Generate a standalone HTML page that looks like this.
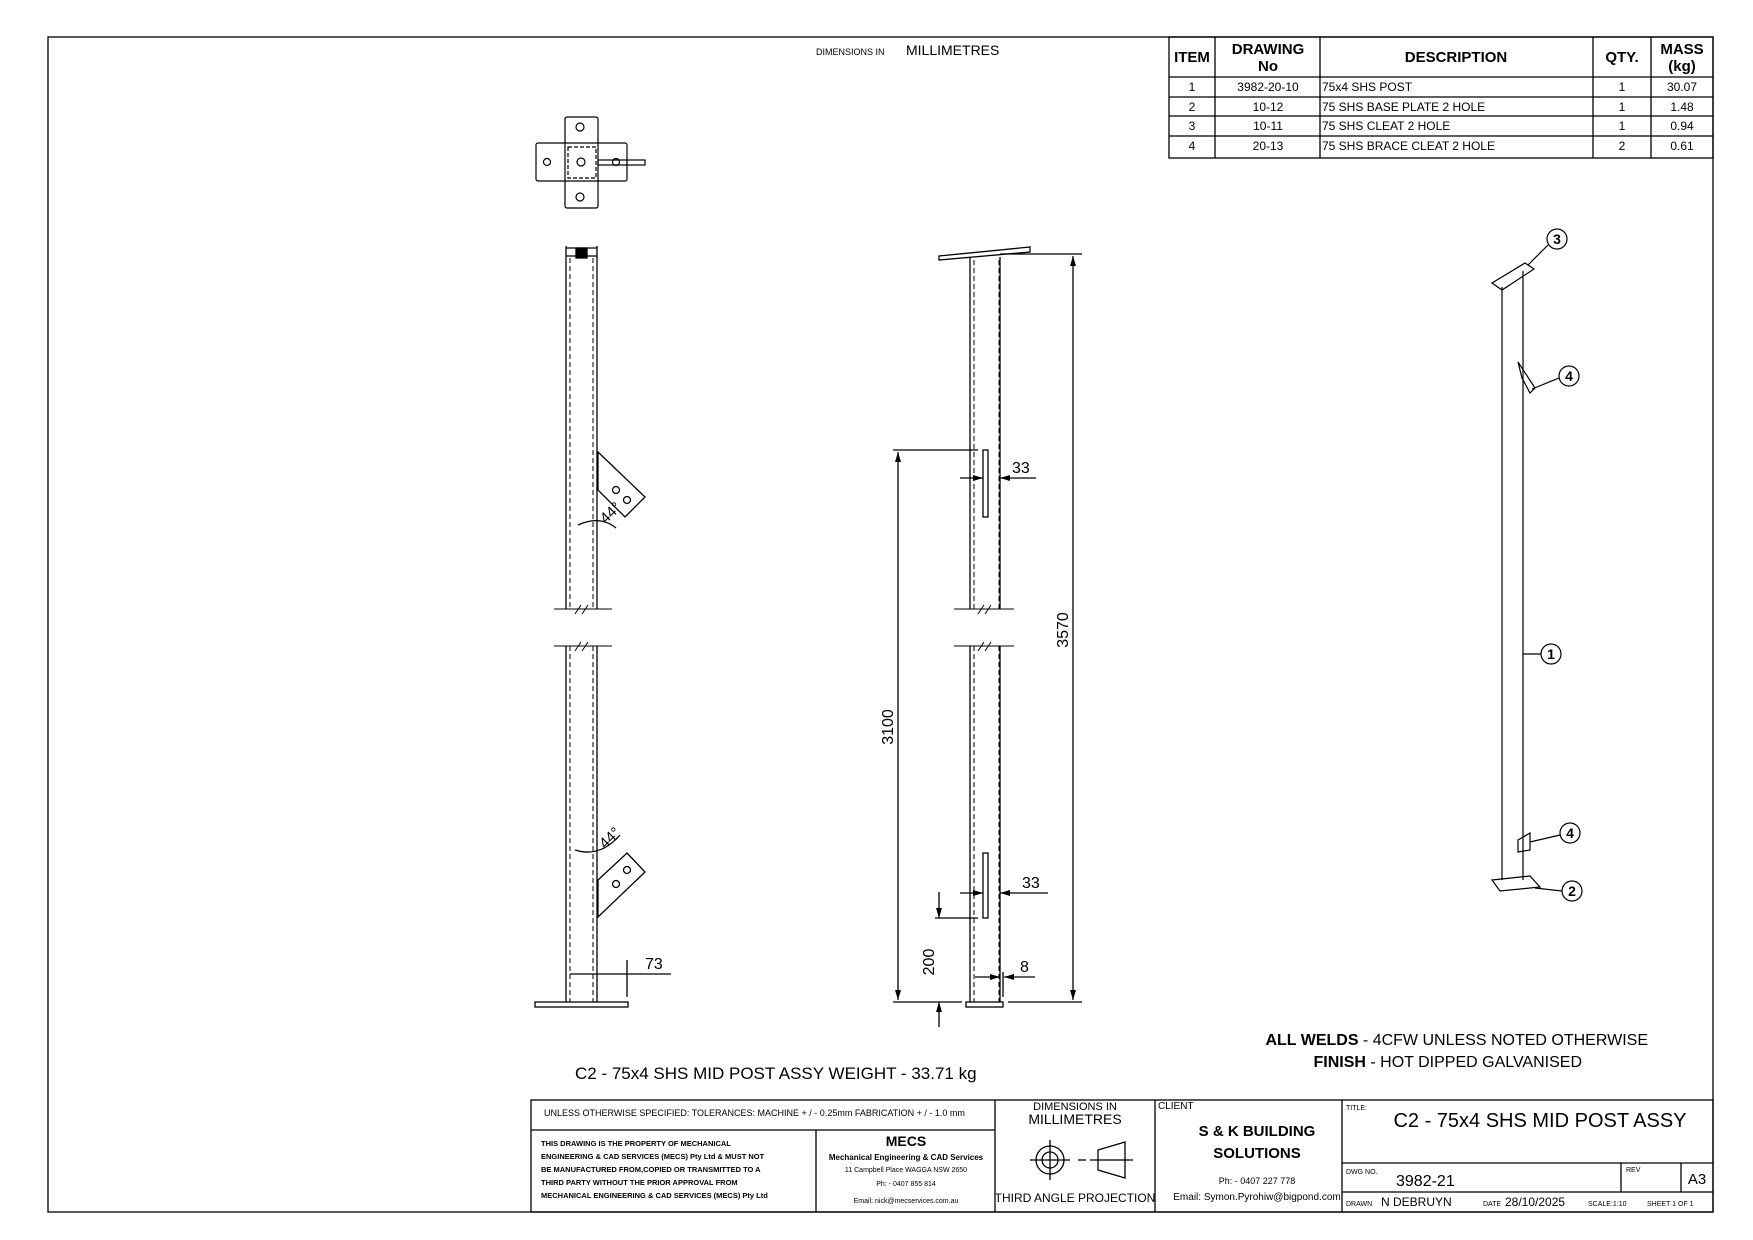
<!DOCTYPE html>
<html><head><meta charset="utf-8"><style>
html,body{margin:0;padding:0;background:#fff}
svg{display:block}
text{font-family:"Liberation Sans",sans-serif;fill:#000}
</style></head><body>
<svg width="1753" height="1240" viewBox="0 0 1753 1240" xmlns="http://www.w3.org/2000/svg">
<defs>
<marker id="ar" viewBox="0 0 10 6" refX="10" refY="3" markerWidth="10" markerHeight="6" orient="auto-start-reverse" markerUnits="userSpaceOnUse"><path d="M0,0L10,3L0,6Z" fill="#000"/></marker>
</defs>
<g fill="none" stroke="#000" stroke-width="1.3">
<rect x="48" y="37" width="1665" height="1175"/>
</g>
<!-- BOM table -->
<g fill="none" stroke="#000" stroke-width="1.3">
<rect x="1169" y="37" width="544" height="121"/>
<line x1="1169" y1="77" x2="1713" y2="77"/>
<line x1="1169" y1="97" x2="1713" y2="97"/>
<line x1="1169" y1="116" x2="1713" y2="116"/>
<line x1="1169" y1="136" x2="1713" y2="136"/>
<line x1="1215" y1="37" x2="1215" y2="158"/>
<line x1="1320" y1="37" x2="1320" y2="158"/>
<line x1="1593" y1="37" x2="1593" y2="158"/>
<line x1="1651" y1="37" x2="1651" y2="158"/>
</g>
<g font-weight="bold" font-size="15" text-anchor="middle">
<text x="1192" y="62">ITEM</text>
<text x="1268" y="54">DRAWING</text><text x="1268" y="71">No</text>
<text x="1456" y="62">DESCRIPTION</text>
<text x="1622" y="62">QTY.</text>
<text x="1682" y="54">MASS</text><text x="1682" y="71">(kg)</text>
</g>
<g font-size="12" text-anchor="middle">
<text x="1192" y="91">1</text><text x="1268" y="91">3982-20-10</text><text x="1622" y="91">1</text><text x="1682" y="91">30.07</text>
<text x="1192" y="111">2</text><text x="1268" y="111">10-12</text><text x="1622" y="111">1</text><text x="1682" y="111">1.48</text>
<text x="1192" y="130">3</text><text x="1268" y="130">10-11</text><text x="1622" y="130">1</text><text x="1682" y="130">0.94</text>
<text x="1192" y="150">4</text><text x="1268" y="150">20-13</text><text x="1622" y="150">2</text><text x="1682" y="150">0.61</text>
</g>
<g font-size="12">
<text x="1322" y="91">75x4 SHS POST</text>
<text x="1322" y="111">75 SHS  BASE PLATE  2 HOLE</text>
<text x="1322" y="130">75 SHS   CLEAT 2 HOLE</text>
<text x="1322" y="150">75 SHS BRACE CLEAT 2 HOLE</text>
</g>
<text x="816" y="55" font-size="9">DIMENSIONS IN</text><text x="906" y="55" font-size="14">MILLIMETRES</text>

<!-- top view -->
<g fill="none" stroke="#000" stroke-width="1.2">
<rect x="565" y="117" width="33" height="91" rx="2"/>
<rect x="536" y="143" width="91" height="38" rx="2" fill="#fff"/>
<line x1="565" y1="143" x2="565" y2="181"/><line x1="598" y1="143" x2="598" y2="181"/>
<rect x="568" y="147" width="28" height="31" stroke-dasharray="4,2"/>
<rect x="598" y="160" width="47" height="5"/>
<circle cx="580" cy="127" r="4"/><circle cx="580" cy="197" r="4"/>
<circle cx="547" cy="162" r="3.5"/><circle cx="581" cy="162" r="4"/><circle cx="616" cy="162" r="3.5"/>
</g>

<!-- left post -->
<g fill="none" stroke="#000" stroke-width="1.3">
<line x1="566" y1="246" x2="566" y2="609"/><line x1="597" y1="246" x2="597" y2="609"/>
<line x1="566" y1="646" x2="566" y2="1002"/><line x1="597" y1="646" x2="597" y2="1002"/>
<line x1="566" y1="248" x2="597" y2="248"/>
<line x1="566" y1="256" x2="597" y2="256"/>
<rect x="576" y="248" width="11" height="10" fill="#000"/>
<rect x="535" y="1002" width="93" height="5"/>
<polygon points="598,452 645,497 625,517 598,490"/>
<polygon points="598,880 627,853 645,872 598,917"/>
<circle cx="616" cy="490" r="3.5"/><circle cx="627" cy="500" r="3.5"/>
<circle cx="616" cy="884" r="3.5"/><circle cx="627" cy="870" r="3.5"/>
<path d="M578,525 Q600,515 616,528" />
<path d="M575,850 Q600,858 620,835"/>
<line x1="570" y1="974" x2="671" y2="974"/>
<line x1="627" y1="960" x2="627" y2="997"/>
</g>
<g fill="none" stroke="#000" stroke-width="1" stroke-dasharray="5,3">
<line x1="570" y1="258" x2="570" y2="609"/><line x1="593" y1="258" x2="593" y2="609"/>
<line x1="570" y1="646" x2="570" y2="1002"/><line x1="593" y1="646" x2="593" y2="1002"/>
</g>
<g stroke="#000" stroke-width="1" fill="none">
<line x1="554" y1="609" x2="612" y2="609"/><line x1="554" y1="646" x2="612" y2="646"/>
<path d="M575,614 L581,605 M582,614 L588,605"/><path d="M575,651 L581,642 M582,651 L588,642"/>
<line x1="954" y1="609" x2="1014" y2="609"/><line x1="954" y1="646" x2="1014" y2="646"/>
<path d="M978,614 L984,605 M985,614 L991,605"/><path d="M978,651 L984,642 M985,651 L991,642"/>
</g>
<text x="600" y="520" font-size="15" transform="rotate(-44 608 515)">44°</text>
<text x="598" y="844" font-size="15" transform="rotate(-44 608 838)">44°</text>
<text x="645" y="969" font-size="16">73</text>

<!-- middle post -->
<g fill="none" stroke="#000" stroke-width="1.3">
<line x1="970" y1="257" x2="970" y2="609"/><line x1="1000" y1="257" x2="1000" y2="609"/>
<line x1="970" y1="646" x2="970" y2="1002"/><line x1="1000" y1="646" x2="1000" y2="1002"/>
<polygon points="939,256 1030,247 1030,252 939,260"/>
<rect x="966" y="1002" width="37" height="5"/>
<rect x="983" y="450" width="5" height="67"/>
<rect x="983" y="853" width="5" height="65"/>
<!-- dims -->
<line x1="1000" y1="254" x2="1082" y2="254"/>
<line x1="1008" y1="1002" x2="1082" y2="1002"/>
<line x1="1073" y1="256" x2="1073" y2="1000" marker-start="url(#ar)" marker-end="url(#ar)"/>
<line x1="893" y1="450" x2="978" y2="450"/>
<line x1="893" y1="1002" x2="962" y2="1002"/>
<line x1="898" y1="452" x2="898" y2="1000" marker-start="url(#ar)" marker-end="url(#ar)"/>
<line x1="935" y1="918" x2="978" y2="918"/>
<line x1="939" y1="892" x2="939" y2="918" marker-end="url(#ar)"/>
<line x1="939" y1="1027" x2="939" y2="1002" marker-end="url(#ar)"/>
<line x1="960" y1="478" x2="983" y2="478" marker-end="url(#ar)"/>
<line x1="1036" y1="478" x2="1000" y2="478" marker-end="url(#ar)"/>
<line x1="1036" y1="478" x2="1036" y2="478"/>
<line x1="960" y1="893" x2="983" y2="893" marker-end="url(#ar)"/>
<line x1="1048" y1="893" x2="1000" y2="893" marker-end="url(#ar)"/>
<line x1="975" y1="977" x2="1000" y2="977" marker-end="url(#ar)"/>
<line x1="1035" y1="977" x2="1004" y2="977" marker-end="url(#ar)"/>
<line x1="1003" y1="972" x2="1003" y2="997"/>
</g>
<g fill="none" stroke="#000" stroke-width="1" stroke-dasharray="5,3">
<line x1="974" y1="260" x2="974" y2="609"/><line x1="999" y1="260" x2="999" y2="609"/>
<line x1="974" y1="646" x2="974" y2="1002"/><line x1="999" y1="646" x2="999" y2="1002"/>
</g>
<text x="1012" y="473" font-size="16">33</text>
<text x="1022" y="888" font-size="16">33</text>
<text x="1020" y="972" font-size="16">8</text>
<text font-size="16" transform="translate(1068 630) rotate(-90)" text-anchor="middle">3570</text>
<text font-size="16" transform="translate(893 727) rotate(-90)" text-anchor="middle">3100</text>
<text font-size="16" transform="translate(934 962) rotate(-90)" text-anchor="middle">200</text>

<!-- iso view -->
<g fill="none" stroke="#000" stroke-width="1.2">
<line x1="1502" y1="287" x2="1502" y2="880"/><line x1="1523" y1="271" x2="1523" y2="880"/>
<polygon points="1492,283 1525,263 1534,269 1502,290"/>
<polygon points="1518,362 1535,388 1530,393 1522,378"/>
<polygon points="1518,840 1530,833 1530,850 1518,852"/>
<polygon points="1492,880 1530,876 1540,887 1500,891"/>
<circle cx="1557" cy="239" r="10"/><line x1="1548" y1="245" x2="1528" y2="265"/>
<circle cx="1569" cy="376" r="10"/><line x1="1559" y1="378" x2="1532" y2="389"/>
<circle cx="1551" cy="654" r="10"/><line x1="1541" y1="654" x2="1523" y2="654"/>
<circle cx="1570" cy="833" r="10"/><line x1="1560" y1="835" x2="1530" y2="842"/>
<circle cx="1572" cy="891" r="10"/><line x1="1562" y1="891" x2="1535" y2="888"/>
</g>
<g font-size="14" font-weight="bold" text-anchor="middle">
<text x="1557" y="244">3</text><text x="1569" y="381">4</text><text x="1551" y="659">1</text><text x="1570" y="838">4</text><text x="1572" y="896">2</text>
</g>

<text x="575" y="1079" font-size="17">C2 - 75x4 SHS MID POST ASSY WEIGHT -   33.71 kg</text>
<text x="1648" y="1045" font-size="16" text-anchor="end"><tspan font-weight="bold">ALL WELDS</tspan> - 4CFW UNLESS NOTED OTHERWISE</text>
<text x="1582" y="1067" font-size="16" text-anchor="end"><tspan font-weight="bold">FINISH</tspan> - HOT DIPPED GALVANISED</text>

<!-- title block -->
<g fill="none" stroke="#000" stroke-width="1.3">
<rect x="531" y="1100" width="1182" height="112"/>
<line x1="531" y1="1130" x2="995" y2="1130"/>
<line x1="816" y1="1130" x2="816" y2="1212"/>
<line x1="995" y1="1100" x2="995" y2="1212"/>
<line x1="1155" y1="1100" x2="1155" y2="1212"/>
<line x1="1342" y1="1100" x2="1342" y2="1212"/>
<line x1="1342" y1="1163" x2="1713" y2="1163"/>
<line x1="1342" y1="1192" x2="1713" y2="1192"/>
<line x1="1621" y1="1163" x2="1621" y2="1192"/>
<line x1="1681" y1="1163" x2="1681" y2="1192"/>
<circle cx="1050" cy="1160" r="14"/><circle cx="1050" cy="1160" r="8"/>
<line x1="1030" y1="1160" x2="1070" y2="1160"/><line x1="1050" y1="1140" x2="1050" y2="1180"/>
<line x1="1078" y1="1160" x2="1086" y2="1160"/>
<polygon points="1098,1150 1125,1142 1125,1178 1098,1170"/>
<line x1="1090" y1="1160" x2="1133" y2="1160"/>
</g>
<text x="544" y="1116" font-size="9">UNLESS OTHERWISE SPECIFIED: TOLERANCES: MACHINE + / - 0.25mm  FABRICATION + / - 1.0 mm</text>
<text x="1075" y="1110" font-size="11" text-anchor="middle">DIMENSIONS IN</text>
<text x="1075" y="1124" font-size="14" text-anchor="middle">MILLIMETRES</text>
<g font-size="7.5" font-weight="bold">
<text x="541" y="1146">THIS DRAWING IS THE PROPERTY OF MECHANICAL</text>
<text x="541" y="1159">ENGINEERING &amp; CAD SERVICES (MECS) Pty Ltd &amp; MUST NOT</text>
<text x="541" y="1172">BE MANUFACTURED FROM,COPIED OR TRANSMITTED TO A</text>
<text x="541" y="1185">THIRD PARTY WITHOUT THE PRIOR APPROVAL FROM</text>
<text x="541" y="1198">MECHANICAL ENGINEERING &amp; CAD SERVICES (MECS) Pty Ltd</text>
</g>
<g text-anchor="middle">
<text x="906" y="1146" font-size="14" font-weight="bold">MECS</text>
<text x="906" y="1160" font-size="8" font-weight="bold">Mechanical Engineering &amp; CAD Services</text>
<text x="906" y="1172" font-size="7">11 Campbell Place WAGGA NSW 2650</text>
<text x="906" y="1186" font-size="7">Ph: - 0407 855 814</text>
<text x="906" y="1203" font-size="7">Email: nick@mecservices.com.au</text>
<text x="1075" y="1202" font-size="12">THIRD ANGLE PROJECTION</text>
<text x="1257" y="1136" font-size="15" font-weight="bold">S &amp; K  BUILDING</text>
<text x="1257" y="1158" font-size="15" font-weight="bold">SOLUTIONS</text>
<text x="1257" y="1184" font-size="9">Ph: - 0407 227 778</text>
<text x="1257" y="1200" font-size="10">Email: Symon.Pyrohiw@bigpond.com</text>
<text x="1540" y="1127" font-size="20">C2 - 75x4 SHS MID POST ASSY</text>
</g>
<text x="1158" y="1109" font-size="10">CLIENT</text>
<text x="1346" y="1110" font-size="7">TITLE:</text>
<text x="1346" y="1174" font-size="7">DWG NO.</text>
<text x="1396" y="1186" font-size="16">3982-21</text>
<text x="1626" y="1172" font-size="7">REV</text>
<text x="1697" y="1184" font-size="15" text-anchor="middle">A3</text>
<text x="1346" y="1206" font-size="7">DRAWN</text>
<text x="1381" y="1206" font-size="12">N DEBRUYN</text>
<text x="1483" y="1206" font-size="7">DATE</text><text x="1505" y="1206" font-size="12">28/10/2025</text>
<text x="1588" y="1206" font-size="7">SCALE:1:10</text>
<text x="1647" y="1206" font-size="7">SHEET 1 OF 1</text>
</svg>
</body></html>
